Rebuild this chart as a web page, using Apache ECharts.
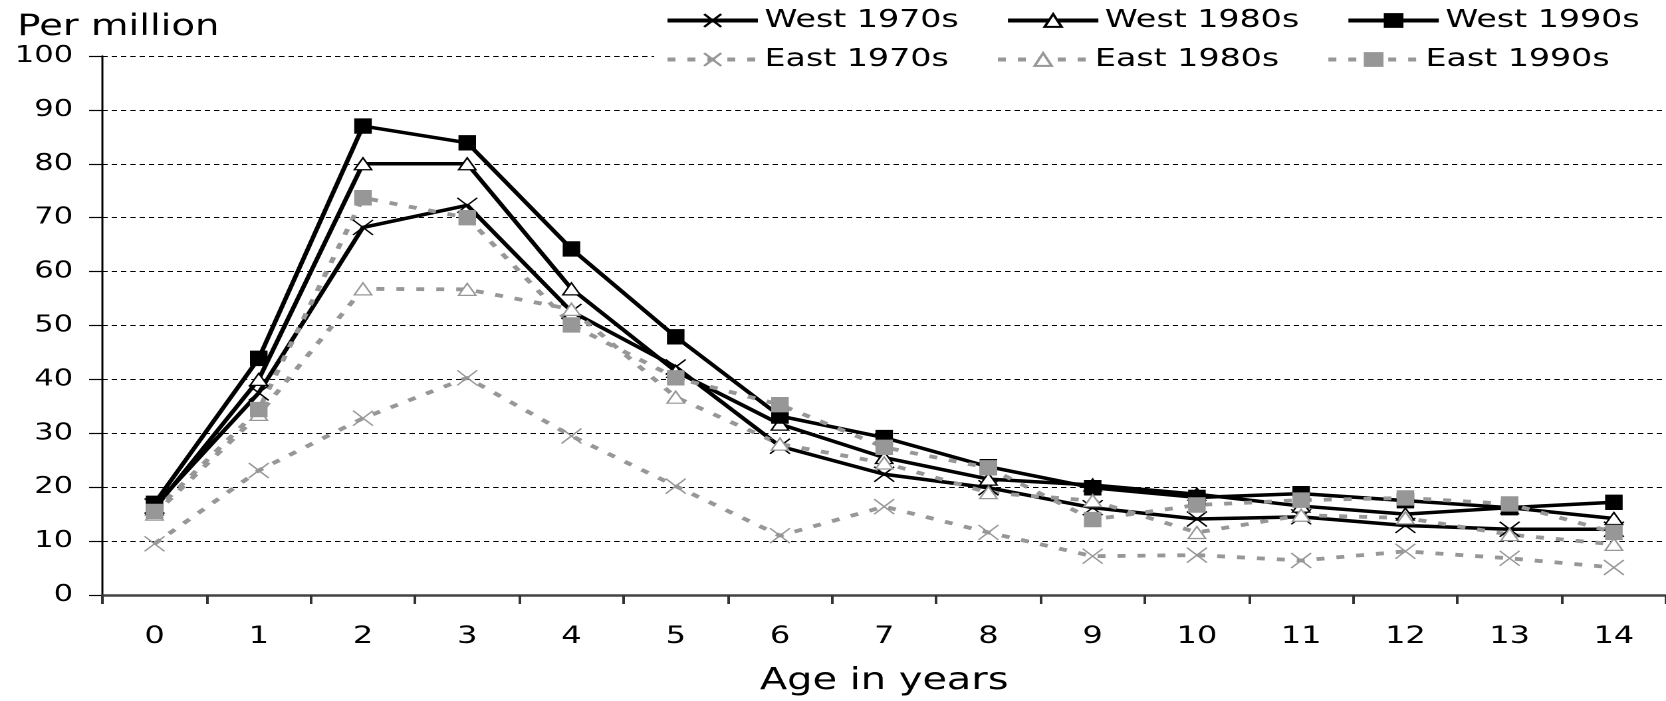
<!DOCTYPE html>
<html>
<head>
<meta charset="utf-8">
<script src="https://cdn.jsdelivr.net/npm/echarts@6/dist/echarts.min.js"></script>
<style>
html,body{margin:0;padding:0;background:#fff;}
#wrap{width:1666px;height:701px;overflow:hidden;position:relative;}
#c{width:1253px;height:701px;transform:scaleX(1.32961);transform-origin:0 0;}
</style>
</head>
<body>
<div id="wrap"><div id="c"></div></div>
<script>
// Categories (age in years)
var ages = ['0','1','2','3','4','5','6','7','8','9','10','11','12','13','14'];
// Y tick range
var yMin = 0, yMax = 100, yStep = 10;
// Series values (per million)
var west1970 = [16.5, 37.5, 68.2, 72.3, 52.6, 42.3, 27.6, 22.4, 19.9, 16.2, 14.1, 14.5, 12.9, 12.2, 12.2];
var west1980 = [16.0, 40.0, 80.0, 80.0, 56.8, 41.5, 31.7, 25.5, 21.5, 20.4, 18.7, 16.5, 15.0, 16.2, 14.2];
var west1990 = [17.0, 43.9, 87.0, 83.9, 64.2, 47.9, 33.2, 29.2, 23.8, 19.9, 18.1, 18.8, 17.5, 16.2, 17.2];
var east1970 = [9.5, 23.1, 32.8, 40.3, 29.5, 20.2, 11.0, 16.4, 11.6, 7.2, 7.4, 6.4, 8.1, 6.8, 5.1];
var east1980 = [15.0, 33.5, 56.8, 56.7, 53.0, 36.7, 28.0, 24.5, 19.0, 17.5, 11.6, 14.8, 14.3, 11.2, 9.4];
var east1990 = [15.5, 34.4, 73.7, 70.0, 50.1, 40.3, 35.3, 27.4, 23.6, 14.0, 16.7, 17.6, 18.0, 16.9, 11.6];

var FONT = 'DejaVu Sans';
var GRAY = '#979797';
var CROSS = 'path://M0 0L10 10M10 0L0 10';

function westSeries(name, data, symbol, symbolSize, fill) {
  return {
    name: name, type: 'line', data: data,
    symbol: symbol, symbolSize: symbolSize, showSymbol: true,
    lineStyle: { color: '#000', width: 3.5, type: 'solid' },
    itemStyle: { color: fill, borderColor: '#000', borderWidth: 1.3 },
    emphasis: { disabled: true }
  };
}
function eastSeries(name, data, symbol, symbolSize, fill, border) {
  return {
    name: name, type: 'line', data: data,
    symbol: symbol, symbolSize: symbolSize, showSymbol: true,
    lineStyle: { color: GRAY, width: 3.8, type: [6, 9] },
    itemStyle: { color: fill, borderColor: border, borderWidth: 1.3 },
    emphasis: { disabled: true }
  };
}

var chart = echarts.init(document.getElementById('c'), null, { renderer: 'canvas', devicePixelRatio: 2 });
chart.setOption({
  animation: false,
  backgroundColor: '#fff',
  title: {
    text: 'Per million', left: 13, top: 13, padding: 0,
    textStyle: { fontFamily: FONT, fontSize: 29, fontWeight: 'normal', color: '#000' }
  },
  legend: [
    {
      data: ['West 1970s', 'West 1980s', 'West 1990s'],
      left: 500, top: 8, padding: 0, itemWidth: 68, itemHeight: 16, itemGap: 35,
      lineStyle: { width: 4 },
      textStyle: { fontFamily: FONT, fontSize: 25, color: '#000' },
      selectedMode: false
    },
    {
      data: ['East 1970s', 'East 1980s', 'East 1990s'],
      left: 492, top: 45, padding: [2, 40, 2, 8], itemWidth: 68, itemHeight: 16, itemGap: 35,
      lineStyle: { width: 4 },
      backgroundColor: '#fff',
      textStyle: { fontFamily: FONT, fontSize: 25, color: '#000' },
      selectedMode: false
    }
  ],
  grid: { left: 77, right: -3, top: 56, bottom: 103, containLabel: false },
  xAxis: {
    type: 'category', data: ages, boundaryGap: true,
    name: 'Age in years', nameLocation: 'middle', nameGap: 86,
    nameTextStyle: { fontFamily: FONT, fontSize: 30, color: '#000', verticalAlign: 'middle' },
    axisLine: { lineStyle: { color: '#444', width: 2.5 } },
    axisTick: { show: true, interval: 0, length: 9, lineStyle: { color: '#333', width: 2 } },
    axisLabel: { interval: 0, margin: 30, fontFamily: FONT, fontSize: 24, color: '#000' },
    splitLine: { show: false }
  },
  yAxis: {
    type: 'value', min: yMin, max: yMax, interval: yStep,
    axisLine: { show: true, lineStyle: { color: '#000', width: 1.5 } },
    axisTick: { show: true, length: 10, lineStyle: { color: '#000', width: 1.2 } },
    axisLabel: { margin: 22, fontFamily: FONT, fontSize: 23, color: '#000' },
    splitLine: { show: true, lineStyle: { color: '#000', width: 1, type: [4, 3] } }
  },
  series: [
    westSeries('West 1970s', west1970, CROSS, [15, 15], 'rgba(0,0,0,0)'),
    westSeries('West 1980s', west1980, 'triangle', [13, 12], '#fff'),
    westSeries('West 1990s', west1990, 'rect', [12, 14], '#000'),
    eastSeries('East 1970s', east1970, CROSS, [15, 15], 'rgba(0,0,0,0)', GRAY),
    eastSeries('East 1980s', east1980, 'triangle', [13, 12], '#fff', GRAY),
    eastSeries('East 1990s', east1990, 'rect', [12, 14], GRAY, GRAY)
  ]
});
</script>
</body>
</html>
